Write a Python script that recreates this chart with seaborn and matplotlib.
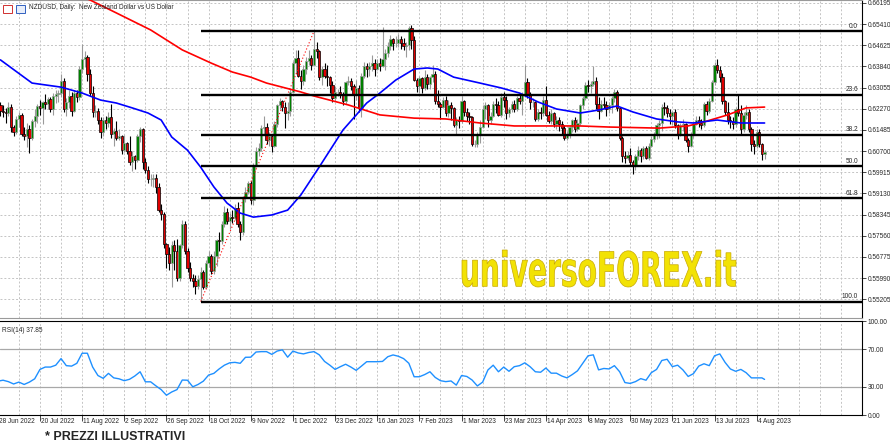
import numpy as np
import pandas as pd
import matplotlib
matplotlib.use("Agg")
import matplotlib.pyplot as plt
import seaborn as sns
from matplotlib.textpath import TextPath
from matplotlib.font_manager import FontProperties
from matplotlib.patches import PathPatch, Rectangle
from matplotlib.transforms import Affine2D, IdentityTransform, blended_transform_factory

# NZDUSD daily candles, 28 Jun 2022 .. 9 Aug 2023 (prices in pips, 0.0001)
opens = [
    6275, 6240, 6218, 6215, 6210, 6233, 6158, 6142, 6187, 6203,
    6135, 6125, 6152, 6118, 6180, 6200, 6238, 6230, 6250, 6245,
    6262, 6225, 6275, 6283, 6285, 6330, 6225, 6250, 6275, 6220,
    6285, 6270, 6375, 6410, 6420, 6355, 6285, 6215, 6220, 6185,
    6140, 6185, 6175, 6195, 6135, 6145, 6120, 6125, 6075, 6100,
    6070, 6030, 6050, 6035, 6125, 6150, 6030, 6000, 5965, 5965,
    5970, 5935, 5850, 5835, 5725, 5690, 5655, 5720, 5700, 5600,
    5720, 5800, 5700, 5635, 5600, 5590, 5570, 5595, 5620, 5565,
    5655, 5680, 5625, 5680, 5740, 5735, 5800, 5845, 5810, 5825,
    5820, 5860, 5800, 5770, 5900, 5920, 5950, 5890, 6020, 6070,
    6080, 6155, 6160, 6110, 6125, 6090, 6170, 6240, 6255, 6235,
    6210, 6220, 6290, 6395, 6415, 6350, 6330, 6375, 6405, 6415,
    6390, 6450, 6440, 6345, 6375, 6350, 6345, 6315, 6265, 6290,
    6290, 6280, 6255, 6325, 6330, 6310, 6280, 6305, 6230, 6350,
    6385, 6375, 6385, 6395, 6375, 6395, 6385, 6410, 6435, 6460,
    6485, 6470, 6470, 6485, 6470, 6460, 6465, 6525, 6480, 6335,
    6310, 6340, 6305, 6345, 6320, 6345, 6355, 6255, 6245, 6235,
    6260, 6210, 6240, 6230, 6165, 6185, 6180, 6255, 6215, 6200,
    6195, 6095, 6095, 6135, 6160, 6225, 6240, 6185, 6200, 6245,
    6240, 6205, 6270, 6260, 6210, 6225, 6245, 6225, 6265, 6255,
    6280, 6325, 6280, 6250, 6250, 6190, 6215, 6210, 6260, 6205,
    6180, 6210, 6170, 6185, 6170, 6155, 6120, 6135, 6160, 6185,
    6150, 6175, 6240, 6265, 6315, 6310, 6320, 6330, 6245, 6220,
    6245, 6240, 6225, 6240, 6265, 6290, 6230, 6120, 6050, 6045,
    6055, 6030, 6015, 6050, 6075, 6050, 6080, 6045, 6090, 6115,
    6130, 6165, 6175, 6235, 6230, 6210, 6200, 6215, 6165, 6135,
    6165, 6170, 6110, 6090, 6130, 6170, 6185, 6175, 6165, 6245,
    6220, 6255, 6325, 6390, 6370, 6345, 6255, 6215, 6185, 6180,
    6170, 6225, 6210, 6150, 6205, 6215, 6150, 6095, 6090, 6140,
    6095, 6060,
]
highs = [
    6290, 6250, 6240, 6228, 6250, 6245, 6168, 6200, 6215, 6210,
    6160, 6175, 6165, 6190, 6227, 6245, 6260, 6255, 6280, 6270,
    6270, 6285, 6295, 6295, 6355, 6340, 6265, 6295, 6290, 6295,
    6295, 6385, 6468, 6440, 6425, 6375, 6310, 6240, 6230, 6195,
    6195, 6200, 6215, 6245, 6155, 6180, 6150, 6130, 6130, 6105,
    6125, 6070, 6055, 6135, 6160, 6155, 6045, 6015, 5985, 5985,
    5985, 5950, 5875, 5845, 5730, 5715, 5735, 5740, 5745, 5725,
    5815, 5810, 5710, 5660, 5615, 5610, 5610, 5640, 5630, 5665,
    5700, 5690, 5700, 5745, 5770, 5810, 5865, 5860, 5840, 5850,
    5875, 5880, 5810, 5905, 5935, 5960, 5960, 6025, 6085, 6100,
    6165, 6200, 6175, 6140, 6130, 6180, 6245, 6265, 6260, 6250,
    6250, 6300, 6405, 6445, 6445, 6370, 6390, 6420, 6445, 6425,
    6514, 6475, 6445, 6385, 6395, 6390, 6350, 6330, 6310, 6300,
    6310, 6290, 6330, 6350, 6340, 6320, 6335, 6315, 6360, 6400,
    6395, 6400, 6425, 6410, 6410, 6415, 6530, 6450, 6475, 6500,
    6490, 6495, 6505, 6495, 6490, 6475, 6535, 6538, 6495, 6340,
    6350, 6345, 6370, 6355, 6350, 6390, 6365, 6295, 6250, 6270,
    6275, 6260, 6250, 6235, 6195, 6200, 6275, 6260, 6230, 6215,
    6200, 6110, 6140, 6185, 6240, 6250, 6245, 6215, 6255, 6265,
    6255, 6285, 6290, 6275, 6235, 6255, 6260, 6275, 6280, 6290,
    6390, 6340, 6290, 6265, 6255, 6225, 6235, 6275, 6310, 6220,
    6225, 6215, 6200, 6195, 6180, 6165, 6145, 6165, 6190, 6195,
    6190, 6245, 6275, 6325, 6335, 6330, 6385, 6345, 6270, 6260,
    6270, 6255, 6250, 6275, 6300, 6295, 6235, 6125, 6070, 6070,
    6080, 6035, 6060, 6090, 6080, 6090, 6090, 6100, 6125, 6140,
    6175, 6185, 6245, 6250, 6240, 6225, 6220, 6225, 6170, 6175,
    6190, 6175, 6120, 6140, 6180, 6200, 6200, 6190, 6250, 6255,
    6265, 6335, 6400, 6412, 6385, 6360, 6260, 6250, 6200, 6195,
    6235, 6280, 6240, 6215, 6240, 6225, 6160, 6110, 6150, 6150,
    6100, 6075,
]
lows = [
    6228, 6200, 6196, 6175, 6200, 6140, 6125, 6135, 6160, 6125,
    6110, 6085, 6061, 6110, 6160, 6175, 6205, 6170, 6225, 6225,
    6215, 6205, 6248, 6250, 6270, 6215, 6200, 6230, 6200, 6215,
    6250, 6260, 6360, 6380, 6330, 6275, 6195, 6195, 6170, 6120,
    6125, 6150, 6160, 6120, 6090, 6110, 6110, 6060, 6065, 6060,
    6020, 5995, 6005, 6030, 6105, 6005, 5990, 5950, 5940, 5935,
    5915, 5845, 5815, 5710, 5635, 5630, 5565, 5630, 5590, 5590,
    5710, 5690, 5620, 5590, 5565, 5540, 5560, 5512, 5560, 5560,
    5640, 5615, 5615, 5645, 5700, 5725, 5790, 5800, 5780, 5805,
    5815, 5790, 5740, 5760, 5880, 5910, 5875, 5870, 6010, 6050,
    6070, 6130, 6095, 6090, 6065, 6085, 6160, 6225, 6220, 6155,
    6185, 6200, 6285, 6355, 6345, 6300, 6315, 6355, 6390, 6370,
    6385, 6415, 6335, 6315, 6340, 6310, 6285, 6250, 6255, 6275,
    6265, 6240, 6245, 6315, 6295, 6190, 6260, 6215, 6195, 6340,
    6345, 6350, 6365, 6350, 6370, 6365, 6380, 6370, 6420, 6445,
    6445, 6455, 6455, 6450, 6445, 6420, 6445, 6450, 6330, 6290,
    6285, 6285, 6295, 6300, 6300, 6325, 6245, 6235, 6190, 6230,
    6200, 6195, 6185, 6160, 6130, 6155, 6175, 6200, 6180, 6170,
    6090, 6085, 6085, 6100, 6155, 6190, 6160, 6170, 6195, 6210,
    6200, 6195, 6235, 6190, 6195, 6215, 6215, 6220, 6245, 6205,
    6270, 6265, 6225, 6235, 6180, 6180, 6190, 6200, 6200, 6175,
    6170, 6160, 6150, 6145, 6130, 6110, 6112, 6120, 6140, 6140,
    6145, 6165, 6225, 6260, 6290, 6285, 6310, 6225, 6190, 6215,
    6230, 6200, 6210, 6210, 6250, 6220, 6110, 6030, 6025, 6035,
    6020, 5985, 6000, 6035, 6030, 6040, 6040, 6035, 6085, 6105,
    6115, 6120, 6145, 6205, 6195, 6170, 6165, 6155, 6115, 6125,
    6145, 6105, 6065, 6085, 6120, 6165, 6160, 6150, 6160, 6205,
    6210, 6250, 6315, 6360, 6325, 6245, 6205, 6170, 6155, 6150,
    6160, 6200, 6130, 6140, 6190, 6140, 6070, 6060, 6080, 6085,
    6035, 6040,
]
closes = [
    6240, 6218, 6215, 6210, 6233, 6158, 6142, 6187, 6203, 6135,
    6125, 6152, 6118, 6180, 6200, 6238, 6230, 6250, 6245, 6262,
    6225, 6275, 6283, 6285, 6330, 6225, 6250, 6275, 6220, 6285,
    6270, 6375, 6410, 6420, 6355, 6285, 6215, 6220, 6185, 6140,
    6185, 6175, 6195, 6135, 6145, 6120, 6125, 6075, 6100, 6070,
    6030, 6050, 6035, 6125, 6150, 6030, 6000, 5965, 5965, 5970,
    5935, 5850, 5835, 5725, 5690, 5655, 5720, 5700, 5600, 5720,
    5800, 5700, 5635, 5600, 5590, 5570, 5595, 5620, 5565, 5655,
    5680, 5625, 5680, 5740, 5735, 5800, 5845, 5810, 5825, 5820,
    5860, 5800, 5770, 5900, 5920, 5950, 5890, 6020, 6070, 6080,
    6155, 6160, 6110, 6125, 6090, 6170, 6240, 6255, 6235, 6210,
    6220, 6290, 6395, 6415, 6350, 6330, 6375, 6405, 6415, 6390,
    6450, 6440, 6345, 6375, 6350, 6345, 6315, 6265, 6290, 6290,
    6280, 6255, 6325, 6330, 6310, 6280, 6305, 6230, 6350, 6385,
    6375, 6385, 6395, 6375, 6395, 6385, 6410, 6435, 6460, 6485,
    6470, 6470, 6485, 6470, 6460, 6465, 6525, 6480, 6335, 6310,
    6340, 6305, 6345, 6320, 6345, 6355, 6255, 6245, 6235, 6260,
    6210, 6240, 6230, 6165, 6185, 6180, 6255, 6215, 6200, 6195,
    6095, 6095, 6135, 6160, 6225, 6240, 6185, 6200, 6245, 6240,
    6205, 6270, 6260, 6210, 6225, 6245, 6225, 6265, 6255, 6280,
    6325, 6280, 6250, 6250, 6190, 6215, 6210, 6260, 6205, 6180,
    6210, 6170, 6185, 6170, 6155, 6120, 6135, 6160, 6185, 6150,
    6175, 6240, 6265, 6315, 6310, 6320, 6330, 6245, 6220, 6245,
    6240, 6225, 6240, 6265, 6290, 6230, 6120, 6050, 6045, 6055,
    6030, 6015, 6050, 6075, 6050, 6080, 6045, 6090, 6115, 6130,
    6165, 6175, 6235, 6230, 6210, 6200, 6215, 6165, 6135, 6165,
    6170, 6110, 6090, 6130, 6170, 6185, 6175, 6165, 6245, 6220,
    6255, 6325, 6390, 6370, 6345, 6255, 6215, 6185, 6180, 6170,
    6225, 6210, 6150, 6205, 6215, 6150, 6095, 6090, 6140, 6095,
    6060, 6065,
]

# moving averages (bar number, price)
blue_ma_bars = [1, 13, 24, 32, 39, 45, 51, 57, 62, 66, 72, 77, 82, 87, 92, 97, 104,
                110, 115, 122, 131, 140, 145, 151, 158, 163, 167, 173, 183, 191,
                198, 205, 212, 221, 228, 235, 241, 250, 258, 264, 273, 282, 291]
blue_ma = [0.6408, 0.6322, 0.6307, 0.6285, 0.6259, 0.6248, 0.6230, 0.6211, 0.6185,
           0.6122, 0.6073, 0.6010, 0.5937, 0.5877, 0.5840, 0.5825, 0.5833, 0.5851,
           0.5907, 0.6011, 0.6148, 0.6248, 0.6285, 0.6333, 0.6374, 0.6378, 0.6374,
           0.6344, 0.6322, 0.6304, 0.6285, 0.6252, 0.6226, 0.6211, 0.6222, 0.6237,
           0.6215, 0.6189, 0.6178, 0.6174, 0.6185, 0.6174, 0.6174]
red_ma_bars = [30, 35, 45, 58, 70, 81, 89, 96, 102, 115, 120, 133, 145, 158, 170,
               183, 196, 208, 221, 232, 251, 262, 268, 277, 284, 291]
red_ma = [0.6650, 0.6630, 0.6582, 0.6519, 0.6445, 0.6396, 0.6363, 0.6344, 0.6322,
          0.6289, 0.6274, 0.6241, 0.6204, 0.6192, 0.6189, 0.6174, 0.6163, 0.6163,
          0.6163, 0.6159, 0.6155, 0.6163, 0.6178, 0.6204, 0.6230, 0.6233]

# RSI(14), one reading every second bar, last bar 37.85
rsi_values = [
    36, 37, 35.5, 33, 35, 32.5, 35, 38.5, 48.5, 51, 51, 53, 60, 52.5, 52, 55,
    65.7, 65.7, 51, 42, 39, 44.3, 39.5, 38.5, 36.5, 38, 41.5, 46, 35.3, 35.3,
    31, 27, 21, 24.5, 27, 37.2, 37, 30, 32.5, 36, 42.5, 44.3, 49, 53, 55.5, 56,
    55, 61.4, 61.5, 67, 67.4, 67.4, 64.5, 68, 69.3, 61.5, 68, 66, 65, 66.5,
    67.4, 64, 57, 53, 48.5, 51.4, 54, 51, 47.5, 52, 56.7, 56.7, 56.7, 57, 62,
    63.9, 62.5, 60, 55, 40.7, 40.7, 43, 46, 40, 36.5, 35.5, 36.2, 31.8, 42, 41,
    37.2, 30.9, 35, 47.9, 53, 46, 51, 46.5, 51.4, 52.5, 55.5, 51.4, 46, 45.5,
    50, 44.5, 44.5, 41.5, 39.5, 43, 47, 55, 63, 64, 48, 49.5, 49, 52.5, 46,
    34.5, 33.6, 35.5, 38.7, 37, 45, 48.5, 58, 59.3, 51.4, 53, 48, 41, 44, 52,
    54.5, 52.5, 63, 65, 56, 49, 46.5, 48.5, 45, 39.5, 39.5, 39.5, 37.85,
]
rsi_bars = list(range(0, 291, 2)) + [291]

# Fibonacci retracement: 13 Oct 2022 low -> 13 Dec 2022 high
fib_low, fib_high = 0.5512, 0.6514
fib_low_bar, fib_high_bar = 77, 120
fib_levels = [0.0, 23.6, 38.2, 50.0, 61.8, 100.0]

price_ticks = [0.66195, 0.65410, 0.64625, 0.63840, 0.63055, 0.62270, 0.61485, 0.60700,
               0.59915, 0.59130, 0.58345, 0.57560, 0.56775, 0.55990, 0.55205]
date_labels = ["28 Jun 2022", "20 Jul 2022", "11 Aug 2022", "2 Sep 2022", "26 Sep 2022",
               "18 Oct 2022", "9 Nov 2022", "1 Dec 2022", "23 Dec 2022", "16 Jan 2023",
               "7 Feb 2023", "1 Mar 2023", "23 Mar 2023", "14 Apr 2023", "8 May 2023",
               "30 May 2023", "21 Jun 2023", "13 Jul 2023", "4 Aug 2023"]

df = pd.DataFrame({"open": opens, "high": highs, "low": lows, "close": closes}) / 10000
df["bar"] = np.arange(len(df))
df["up"] = df["close"] >= df["open"]

sns.set_style("white")
plt.rcParams["font.family"] = ["Liberation Sans Narrow", "Liberation Sans", "DejaVu Sans"]
SMALL = 4.7
GRID = dict(color="#c4c4c4", ls=(0, (2, 2)), lw=0.7, zorder=0)

fig = plt.figure(figsize=(8.9, 4.44), dpi=100)
ax = fig.add_axes([0, 1 - 318 / 444, 862 / 890, 318 / 444])
axr = fig.add_axes([0, 1 - 415 / 444, 862 / 890, 94 / 444])
XMIN, XMAX = 0.835, 327.97

# grid
for p in price_ticks:
    ax.axhline(p, **GRID)
for b in range(0, 330, 8):
    ax.axvline(b, **GRID)
    axr.axvline(b, **GRID)

# candles
edge = np.where(df["up"], "#9a9a9a", "#000000")
fill = np.where(df["up"], "#008000", "#e00000")
ax.vlines(df["bar"], df["low"], df["high"], colors=edge, lw=0.8, zorder=3)
body_h = (df["close"] - df["open"]).abs().clip(lower=0.00006)
ax.bar(df["bar"], body_h, bottom=df[["open", "close"]].min(axis=1), width=0.85,
       color=fill, edgecolor=edge, linewidth=0.5, zorder=4)

# moving averages
sns.lineplot(x=red_ma_bars, y=red_ma, color="#ff0000", lw=1.2, ax=ax, zorder=5)
sns.lineplot(x=blue_ma_bars, y=blue_ma, color="#0000ff", lw=1.2, ax=ax, zorder=5)

# fibonacci
ax.plot([fib_low_bar, fib_high_bar], [fib_low, fib_high], color="#ff0000",
        ls=(0, (1, 2)), lw=0.8, zorder=6)
tr_fib = blended_transform_factory(ax.transAxes, ax.transData)
for lvl in fib_levels:
    p = fib_high - (fib_high - fib_low) * lvl / 100
    ax.hlines(p, fib_low_bar, XMAX, color="black", lw=1.7, zorder=6)
    ax.text(858 / 862, p + 0.0006, f"{lvl:.1f}", transform=tr_fib, ha="right",
            va="bottom", fontsize=SMALL, zorder=7)

ax.set_xlim(XMIN, XMAX)
ax.set_ylim(0.5451, 0.6630)
ax.set_xlabel("")
ax.set_ylabel("")
ax.yaxis.tick_right()
ax.set_yticks(price_ticks)
ax.set_yticklabels([f"{p:.5f}" for p in price_ticks])
ax.tick_params(axis="y", labelsize=SMALL, length=3, width=0.6, pad=1.0, right=True)
ax.tick_params(axis="x", bottom=False, labelbottom=False)
ax.spines["left"].set_visible(False)
ax.spines["top"].set_color("#9a9a9a")
ax.spines["bottom"].set_color("#9a9a9a")
ax.spines["right"].set_color("black")
for s in ax.spines.values():
    s.set_linewidth(0.8)

# RSI panel
axr.axhline(70, color="#a8a8a8", lw=0.9, zorder=1)
axr.axhline(30, color="#a8a8a8", lw=0.9, zorder=1)
sns.lineplot(x=rsi_bars, y=rsi_values, color="#1e90ff", lw=1.0, ax=axr, zorder=3)
axr.set_xlim(XMIN, XMAX)
axr.set_ylim(0, 100)
axr.set_xlabel("")
axr.set_ylabel("")
axr.yaxis.tick_right()
axr.set_yticks([0, 30, 70, 100])
axr.set_yticklabels(["0.00", "30.00", "70.00", "100.00"])
axr.tick_params(axis="y", labelsize=SMALL, length=3, width=0.6, pad=1.0, right=True)
label_bars = list(range(0, 289, 16))
axr.set_xticks(label_bars[1:])
axr.tick_params(axis="x", length=4, width=0.6, labelbottom=False, bottom=True)
tr_date = blended_transform_factory(axr.transData, axr.transAxes)
for b, lab in zip(label_bars, date_labels):
    axr.text(b + 0.4, -0.035, lab, transform=tr_date, ha="left", va="top",
             fontsize=SMALL, clip_on=False)
axr.spines["left"].set_visible(False)
for s in axr.spines.values():
    s.set_color("black")
    s.set_linewidth(0.8)

axr.text(2 / 862, 0.94, "RSI(14) 37.85", transform=axr.transAxes, fontsize=SMALL,
         ha="left", va="top")

# header
fig.text(29 / 890, 1 - 7.5 / 444, "NZDUSD, Daily:  New Zealand Dollar vs US Dollar",
         fontsize=SMALL, ha="left", va="center")
fig.add_artist(Rectangle((3 / 890, 1 - 13 / 444), 9 / 890, 8 / 444, facecolor="white",
                         edgecolor="#d03030", lw=0.7, transform=fig.transFigure))
fig.add_artist(Rectangle((16 / 890, 1 - 13 / 444), 9 / 890, 8 / 444, facecolor="#e8eefa",
                         edgecolor="#3060c0", lw=0.7, transform=fig.transFigure))

# watermark fitted into its box (pixel coords)
fp = FontProperties(family="DejaVu Sans", weight="bold")
tp = TextPath((0, 0), "universoFOREX.it", size=100, prop=fp)
bb = tp.get_extents()
x0, x1, y0, y1 = 462, 736, 444 - 287, 444 - 250
fit = Affine2D().translate(-bb.x0, -bb.y0).scale((x1 - x0) / bb.width,
                                                  (y1 - y0) / bb.height).translate(x0, y0)
fig.add_artist(PathPatch(fit.transform_path(tp), facecolor="#f2e205", edgecolor="#c8a800",
                         lw=0.5, transform=IdentityTransform()))

fig.text(45 / 890, 1 - 437 / 444, "* PREZZI ILLUSTRATIVI", fontsize=9,
         fontweight="bold", ha="left", va="center")

fig.savefig("out.png", dpi=100)
